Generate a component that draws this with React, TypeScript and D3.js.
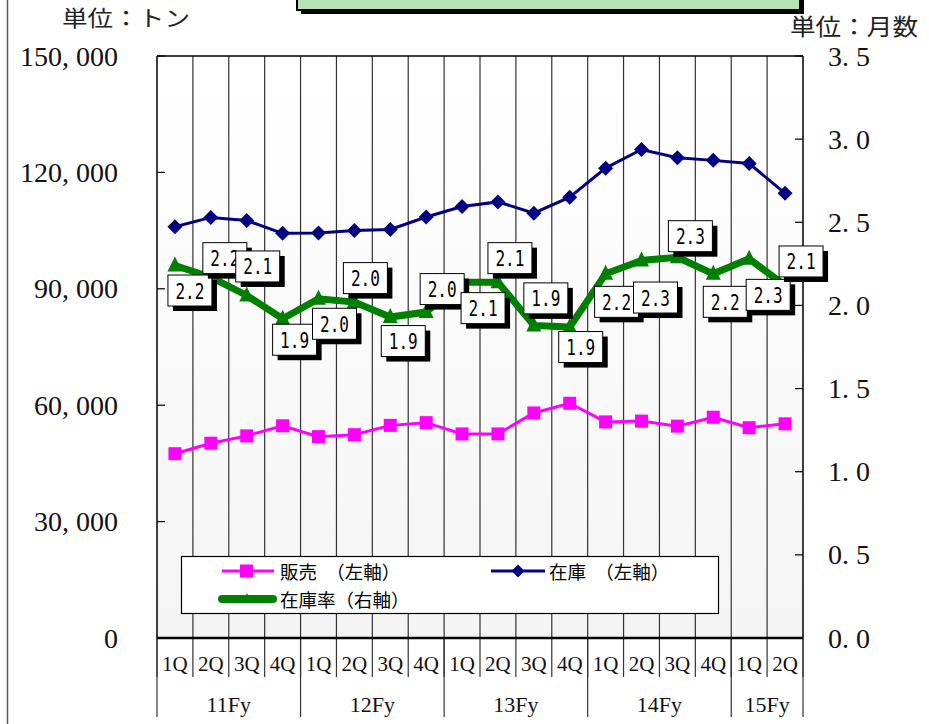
import React from "react";
import * as d3 from "d3";

// Quarterly sales / inventory (tons) and inventory ratio (months)
const quarters = ["1Q", "2Q", "3Q", "4Q", "1Q", "2Q", "3Q", "4Q", "1Q", "2Q", "3Q", "4Q", "1Q", "2Q", "3Q", "4Q", "1Q", "2Q"];
const fiscalYears = ["11Fy", "12Fy", "13Fy", "14Fy", "15Fy"];
const fiscalYearSpans = [4, 4, 4, 4, 2];

const sales = [47500, 50200, 52100, 54700, 51900, 52400, 54800, 55500, 52600, 52600, 58000, 60500, 55700, 55900, 54600, 56900, 54200, 55200];
const inventory = [106000, 108400, 107600, 104300, 104400, 105000, 105300, 108500, 111200, 112400, 109500, 113600, 121100, 125900, 123800, 123100, 122300, 114600];
const ratio = [2.24, 2.17, 2.06, 1.92, 2.04, 2.02, 1.93, 1.96, 2.14, 2.14, 1.88, 1.87, 2.19, 2.27, 2.29, 2.19, 2.28, 2.12];

const leftTicks = [0, 30000, 60000, 90000, 120000, 150000];
const rightTicks = [0, 0.5, 1.0, 1.5, 2.0, 2.5, 3.0, 3.5];

// Data-label placement relative to each ratio point
const labelDx = [15, 14, 11, 12, 16, 11, 13, 16, 21, 12, 12, 11, 11, 14, 13, 12, 19, 16];
const labelDy = [25, -19, -29, 21, 25, -24, 24, -23, 26, -24, -27, 20, 28, 37, -21, 28, 36, -24];

const W = 929;
const H = 724;
const plot = { left: 157, right: 803, top: 56, bottom: 638 };

const serif = "'Liberation Serif', 'DejaVu Serif', serif";
const cjk = "'Noto Sans CJK JP', 'Noto Sans', sans-serif";
const mono = "'DejaVu Sans Mono', 'Liberation Mono', monospace";

export default function App() {
  const idx = quarters.map((_, i) => i);
  const x = d3.scaleBand<number>().domain(idx).range([plot.left, plot.right]).padding(0);
  const cx = (i: number) => (x(i) as number) + x.bandwidth() / 2;
  const yL = d3.scaleLinear().domain([0, 150000]).range([plot.bottom, plot.top]);
  const yR = d3.scaleLinear().domain([0, 3.5]).range([plot.bottom, plot.top]);

  const lineL = d3.line<number>().x((_, i) => cx(i)).y((d) => yL(d));
  const lineR = d3.line<number>().x((_, i) => cx(i)).y((d) => yR(d));

  const fmtLeft = (v: number) => d3.format(",")(v).replace(",", ", ");
  const fmtRight = (v: number) => d3.format(".1f")(v).replace(".", ". ");
  const fmtLabel = d3.format(".1f");

  const boundaries = d3.range(quarters.length + 1).map((k) =>
    k === quarters.length ? plot.right : (x(k) as number)
  );
  const yearStarts: number[] = Array.from(d3.cumsum([0, ...fiscalYearSpans]));

  const diamond = (px: number, py: number, r: number) =>
    `M${px},${py - r}L${px + r},${py}L${px},${py + r}L${px - r},${py}Z`;
  const triangle = (px: number, py: number, s: number) =>
    `M${px},${py - s * 0.6}L${px + s / 2},${py + s * 0.4}L${px - s / 2},${py + s * 0.4}Z`;

  const boxW = 44;
  const boxH = 31;

  return (
    <svg
      width={W}
      height={H}
      viewBox={`0 0 ${W} ${H}`}
      style={{ position: "absolute", left: 0, top: 0, background: "#fff" }}
    >
      <defs>
        <linearGradient id="plotBg" x1="0" y1="0" x2="0" y2="1">
          <stop offset="0" stopColor="#ffffff" />
          <stop offset="1" stopColor="#f4f4f4" />
        </linearGradient>
      </defs>

      {/* outer frame edge */}
      <line x1={7.5} x2={7.5} y1={0} y2={H} stroke="#555" strokeWidth={1.5} />

      {/* title banner */}
      <rect x={301} y={-20} width={503} height={34} fill="#000" />
      <rect x={297} y={-24} width={503} height={34} fill="#b6e3b6" stroke="#000" strokeWidth={2} />

      {/* unit captions */}
      <text x={62} y={26} fontFamily={cjk} fontSize={22} fill="#222" textLength={128} lengthAdjust="spacingAndGlyphs">単位：トン</text>
      <text x={790} y={35} fontFamily={cjk} fontSize={23} fill="#222" textLength={128} lengthAdjust="spacingAndGlyphs">単位：月数</text>

      {/* plot background */}
      <rect
        x={plot.left}
        y={plot.top}
        width={plot.right - plot.left}
        height={plot.bottom - plot.top}
        fill="url(#plotBg)"
      />

      {/* vertical category separators */}
      {boundaries.slice(1, -1).map((bx, k) => (
        <line key={`g${k}`} x1={bx} x2={bx} y1={plot.top} y2={plot.bottom} stroke="#333" strokeWidth={1.2} />
      ))}

      {/* plot frame */}
      <line x1={plot.left} x2={plot.right} y1={plot.top} y2={plot.top} stroke="#000" strokeWidth={1.5} />
      <line x1={plot.left} x2={plot.left} y1={plot.top} y2={plot.bottom} stroke="#000" strokeWidth={1.5} />
      <line x1={plot.right} x2={plot.right} y1={plot.top} y2={plot.bottom} stroke="#000" strokeWidth={1.5} />

      {/* left axis ticks and labels */}
      {leftTicks.map((t) => (
        <g key={`l${t}`}>
          <line x1={plot.left} x2={plot.left + 8} y1={yL(t)} y2={yL(t)} stroke="#000" strokeWidth={1.2} />
          <text
            x={118}
            y={yL(t)}
            textAnchor="end"
            dominantBaseline="central"
            fontFamily={serif}
            fontSize={28}
            fill="#111"
          >
            {fmtLeft(t)}
          </text>
        </g>
      ))}

      {/* right axis ticks and labels */}
      {rightTicks.map((t) => (
        <g key={`r${t}`}>
          <line x1={plot.right - 8} x2={plot.right} y1={yR(t)} y2={yR(t)} stroke="#000" strokeWidth={1.2} />
          <text
            x={828}
            y={yR(t)}
            dominantBaseline="central"
            fontFamily={serif}
            fontSize={28}
            fill="#111"
          >
            {fmtRight(t)}
          </text>
        </g>
      ))}

      {/* category axis */}
      {boundaries.map((bx, k) => (
        <line key={`q${k}`} x1={bx} x2={bx} y1={plot.bottom} y2={677} stroke="#333" strokeWidth={1.2} />
      ))}
      {yearStarts.map((s, k) => (
        <line key={`y${k}`} x1={boundaries[s]} x2={boundaries[s]} y1={plot.bottom} y2={717} stroke="#333" strokeWidth={1.2} />
      ))}
      {quarters.map((q, i) => (
        <text key={`qt${i}`} x={cx(i)} y={664} textAnchor="middle" dominantBaseline="central" fontFamily={serif} fontSize={21} fill="#111">
          {q}
        </text>
      ))}
      {fiscalYears.map((fy, k) => {
        const a = boundaries[yearStarts[k]];
        const b = boundaries[yearStarts[k + 1]];
        return (
          <text key={`fy${k}`} x={(a + b) / 2} y={704} textAnchor="middle" dominantBaseline="central" fontFamily={serif} fontSize={22} fill="#111">
            {fy}
          </text>
        );
      })}
      <line x1={plot.left} x2={plot.right} y1={plot.bottom} y2={plot.bottom} stroke="#000" strokeWidth={2.5} />

      {/* inventory (left axis) */}
      <path d={lineL(inventory) ?? ""} fill="none" stroke="#000080" strokeWidth={3} />
      {inventory.map((v, i) => (
        <path key={`inv${i}`} d={diamond(cx(i), yL(v), 7.5)} fill="#000080" />
      ))}

      {/* sales (left axis) */}
      <path d={lineL(sales) ?? ""} fill="none" stroke="#ff00ff" strokeWidth={3} />
      {sales.map((v, i) => (
        <rect key={`s${i}`} x={cx(i) - 6.5} y={yL(v) - 6.5} width={13} height={13} fill="#ff00ff" />
      ))}

      {/* inventory ratio (right axis) */}
      <path d={lineR(ratio) ?? ""} fill="none" stroke="#008000" strokeWidth={7} strokeLinejoin="miter" />
      {ratio.map((v, i) => (
        <path key={`rt${i}`} d={triangle(cx(i), yR(v), 15)} fill="#008000" />
      ))}

      {/* ratio data labels */}
      {ratio.map((v, i) => {
        const lx = cx(i) + labelDx[i];
        const ly = yR(v) + labelDy[i];
        return (
          <g key={`lb${i}`}>
            <rect x={lx - boxW / 2 + 5} y={ly - boxH / 2 + 5} width={boxW} height={boxH} fill="#000" />
            <rect x={lx - boxW / 2} y={ly - boxH / 2} width={boxW} height={boxH} fill="#fff" stroke="#000" strokeWidth={1} />
            <text
              x={lx}
              y={ly + 1}
              textAnchor="middle"
              dominantBaseline="central"
              fontFamily={mono}
              fontSize={21}
              textLength={29}
              lengthAdjust="spacingAndGlyphs"
              fill="#000"
            >
              {fmtLabel(v)}
            </text>
          </g>
        );
      })}

      {/* legend */}
      <rect x={181.5} y={556.5} width={537} height={57} fill="#fff" stroke="#000" strokeWidth={1.2} />
      <line x1={222} x2={274} y1={571} y2={571} stroke="#ff00ff" strokeWidth={3} />
      <rect x={240} y={564.5} width={13} height={13} fill="#ff00ff" />
      <text x={280} y={571} dominantBaseline="central" fontFamily={cjk} fontSize={18.5} fill="#000">販売　（左軸）</text>

      <line x1={491} x2={545} y1={571} y2={571} stroke="#000080" strokeWidth={3} />
      <path d={diamond(518, 571, 6.5)} fill="#000080" />
      <text x={549} y={571} dominantBaseline="central" fontFamily={cjk} fontSize={18.5} fill="#000">在庫　（左軸）</text>

      <line x1={222} x2={273} y1={599} y2={599} stroke="#008000" strokeWidth={8} strokeLinecap="round" />
      <path d={triangle(247, 599, 10)} fill="#008000" />
      <text x={280} y={599} dominantBaseline="central" fontFamily={cjk} fontSize={18.5} fill="#000">在庫率（右軸）</text>
    </svg>
  );
}
